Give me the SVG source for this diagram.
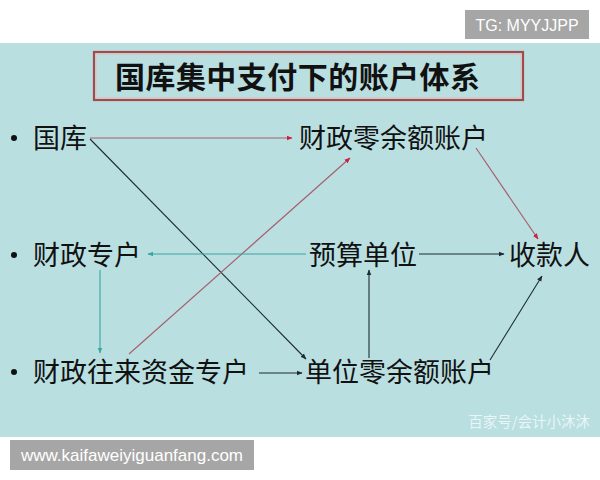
<svg xmlns="http://www.w3.org/2000/svg" width="600" height="480" viewBox="0 0 600 480">
<style>
.t{font-family:"Noto Sans CJK SC","Noto Sans",sans-serif;font-size:27px;fill:#111}
.ttl{font-family:"Noto Sans CJK SC","Noto Sans",sans-serif;font-size:30px;font-weight:bold;fill:#111}
.red{stroke:#a86070;stroke-width:1.2;fill:none}
.blk{stroke:#1c2c32;stroke-width:1.1;fill:none}
.teal{stroke:#3aa6a2;stroke-width:1.1;fill:none}
.wm{font-family:"Liberation Sans",Arial,sans-serif;font-size:16px;fill:#fff}
.url{font-size:17px}
</style>
<defs>
<marker id="ar" viewBox="0 0 10 10" refX="9" refY="5" markerWidth="6" markerHeight="6" orient="auto" markerUnits="userSpaceOnUse"><path d="M0,1L10,5L0,9z" fill="#d02040"/></marker>
<marker id="ab" viewBox="0 0 10 10" refX="9" refY="5" markerWidth="6" markerHeight="6" orient="auto" markerUnits="userSpaceOnUse"><path d="M0,1L10,5L0,9z" fill="#1c2c32"/></marker>
<marker id="at" viewBox="0 0 10 10" refX="9" refY="5" markerWidth="6" markerHeight="6" orient="auto" markerUnits="userSpaceOnUse"><path d="M0,1L10,5L0,9z" fill="#3aa6a2"/></marker>
</defs>
<rect width="600" height="480" fill="#fff"/>
<rect x="0" y="43" width="600" height="394" fill="#b9dfe1"/>
<g id="tg"><rect x="465" y="10" width="124" height="29" fill="#a6a6a6"/><text class="wm" x="527" y="31" text-anchor="middle">TG: MYYJJPP</text></g>
<g id="title">
<rect x="94" y="52" width="429" height="48" fill="none" stroke="#a84848" stroke-width="2.2"/>
<rect x="96.5" y="54.5" width="424" height="43" fill="none" stroke="#e8c0c0" stroke-width="0.8"/>
<text class="ttl" x="115" y="88" textLength="365">国库集中支付下的账户体系</text>
</g>
<g id="bullets" fill="#111"><circle cx="14" cy="138" r="3"/><circle cx="14" cy="255" r="3"/><circle cx="14" cy="372" r="3"/></g>
<g id="n-guoku"><text class="t" x="33" y="148">国库</text></g>
<g id="n-czlye"><text class="t" x="299" y="148">财政零余额账户</text></g>
<g id="n-czzh"><text class="t" x="33" y="265">财政专户</text></g>
<g id="n-ysdw"><text class="t" x="309" y="265">预算单位</text></g>
<g id="n-skr"><text class="t" x="509" y="265">收款人</text></g>
<g id="n-czwl"><text class="t" x="33" y="382">财政往来资金专户</text></g>
<g id="n-dwlye"><text class="t" x="305" y="382">单位零余额账户</text></g>
<g id="connectors">
<line class="red" x1="90" y1="138" x2="292" y2="138" marker-end="url(#ar)"/>
<line class="blk" x1="90" y1="139" x2="306" y2="359" marker-end="url(#ab)"/>
<line class="red" x1="129" y1="354" x2="350" y2="158" marker-end="url(#ar)"/>
<line class="red" x1="476" y1="148" x2="538" y2="239" marker-end="url(#ar)"/>
<line class="teal" x1="306" y1="254" x2="148" y2="254" marker-end="url(#at)"/>
<line class="blk" x1="419" y1="254" x2="504" y2="254" marker-end="url(#ab)"/>
<line class="teal" x1="100" y1="270" x2="100" y2="353" marker-end="url(#at)"/>
<line class="blk" x1="369" y1="358" x2="369" y2="270" marker-end="url(#ab)"/>
<line class="blk" x1="490" y1="360" x2="542" y2="276" marker-end="url(#ab)"/>
<line class="blk" x1="259" y1="373" x2="302" y2="373" marker-end="url(#ab)"/>
</g>
<text x="590" y="427" text-anchor="end" font-family="Noto Sans CJK SC,sans-serif" font-size="14.5" fill="#f2fafa" fill-opacity="0.85">百家号/会计小沐沐</text>
<g id="url"><rect x="10" y="440" width="244" height="30" fill="#a6a6a6"/><text class="wm url" x="132" y="461" text-anchor="middle">www.kaifaweiyiguanfang.com</text></g>
</svg>
